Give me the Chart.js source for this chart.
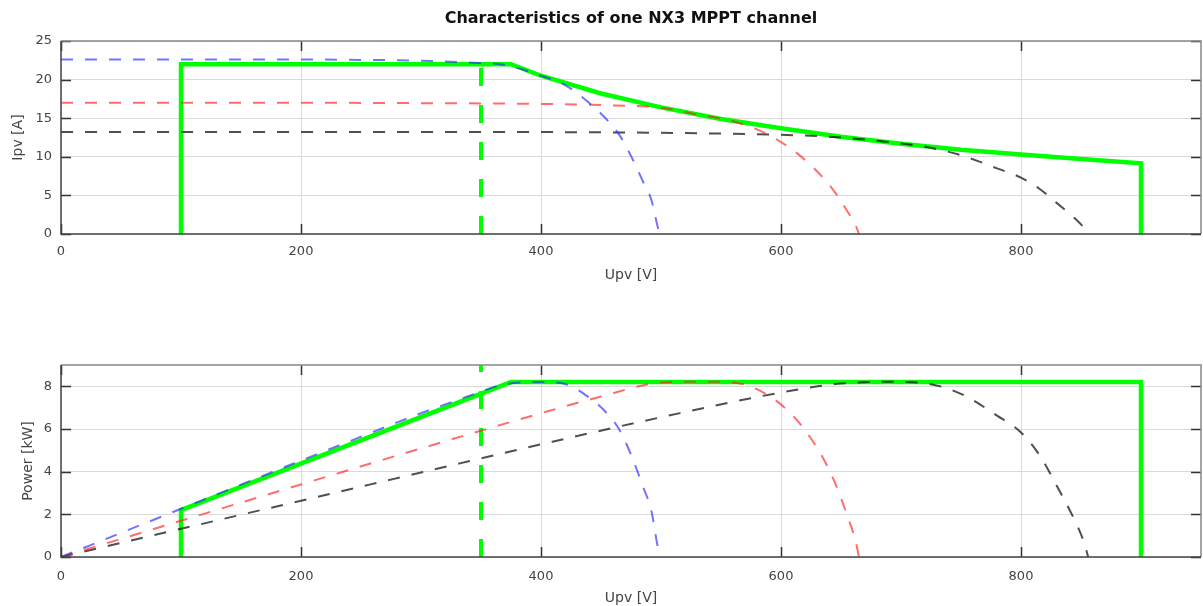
<!DOCTYPE html>
<html><head><meta charset="utf-8">
<script src="https://cdn.jsdelivr.net/npm/chart.js@4"></script>
<style>
html,body{margin:0;padding:0;background:#fff;overflow:hidden;width:1203px;height:606px;position:relative}
#c1{position:absolute;left:0;top:0}
#c2{position:absolute;left:0;top:300px}
</style></head><body>
<canvas id="c1" width="1203" height="300"></canvas>
<canvas id="c2" width="1203" height="320"></canvas>
<script>
// ---- data ----
const xTicks = [0, 200, 400, 600, 800];
const ipvTicks = [0, 5, 10, 15, 20, 25];
const powerTicks = [0, 2, 4, 6, 8];

const blueU = [0, 50, 100, 150, 200, 250, 300, 340, 370, 400, 420, 440, 455, 465, 475, 485, 492, 497, 499];
const blueI = [22.6, 22.6, 22.6, 22.6, 22.6, 22.55, 22.45, 22.2, 21.9, 20.5, 19.3, 17.0, 14.8, 12.9, 10.1, 6.8, 4.4, 1.1, 0];
const blueP = [0, 1.13, 2.26, 3.39, 4.52, 5.64, 6.74, 7.55, 8.10, 8.20, 8.11, 7.48, 6.73, 6.00, 4.80, 3.30, 2.16, 0.55, 0];

const redU = [0, 100, 200, 300, 400, 450, 500, 530, 560, 585, 605, 620, 635, 645, 655, 662, 665];
const redI = [17.0, 17.0, 17.0, 16.95, 16.85, 16.7, 16.35, 15.5, 14.6, 13.2, 11.4, 9.6, 7.3, 5.4, 3.0, 1.2, 0];
const redP = [0, 1.70, 3.40, 5.09, 6.74, 7.52, 8.18, 8.22, 8.18, 7.72, 6.90, 5.95, 4.64, 3.48, 1.97, 0.79, 0];

const blackU = [0, 100, 200, 300, 400, 500, 600, 650, 690, 720, 750, 780, 800, 815, 830, 845, 852, 856];
const blackI = [13.2, 13.2, 13.2, 13.2, 13.2, 13.1, 12.85, 12.5, 11.9, 11.3, 10.2, 8.5, 7.3, 5.9, 4.0, 2.0, 0.9, 0];
const blackP = [0, 1.32, 2.64, 3.96, 5.28, 6.55, 7.71, 8.13, 8.21, 8.14, 7.65, 6.63, 5.84, 4.81, 3.32, 1.69, 0.77, 0];

const mpptU_I = [100, 100, 375, 400, 450, 500, 550, 600, 650, 700, 750, 800, 850, 900, 900];
const mpptI = [0, 22, 22, 20.5, 18.2, 16.4, 14.9, 13.7, 12.6, 11.7, 10.9, 10.3, 9.7, 9.15, 0];
const mpptU_P = [100, 100, 375, 900, 900];
const mpptP = [0, 2.2, 8.2, 8.2, 0];

const markerU = [350, 350];
const markerI = [0, 22];
const markerP = [0, 9];

// ---- helpers ----
const pts = (xs, ys) => xs.map((x, i) => ({x: x, y: ys[i]}));
const FONT = "'DejaVu Sans', sans-serif";

const framePlugin = {
  id: 'frame',
  afterDatasetsDraw(chart) {
    const {ctx, chartArea: a, scales} = chart;
    ctx.save();
    ctx.lineWidth = 1.5;
    ctx.strokeStyle = '#333';
    ctx.beginPath();
    const tl = 10;
    scales.x.ticks.forEach(t => {
      const px = Math.round(scales.x.getPixelForValue(t.value)) + 0.5;
      ctx.moveTo(px, a.bottom); ctx.lineTo(px, a.bottom - tl);
      ctx.moveTo(px, a.top); ctx.lineTo(px, a.top + tl);
    });
    scales.y.ticks.forEach(t => {
      const py = Math.round(scales.y.getPixelForValue(t.value)) + 0.5;
      ctx.moveTo(a.left, py); ctx.lineTo(a.left + tl, py);
      ctx.moveTo(a.right, py); ctx.lineTo(a.right - tl, py);
    });
    ctx.stroke();
    ctx.strokeStyle = '#888';
    ctx.beginPath();
    ctx.moveTo(a.left, a.top); ctx.lineTo(a.right, a.top); ctx.lineTo(a.right, a.bottom);
    ctx.stroke();
    ctx.strokeStyle = '#444';
    ctx.beginPath();
    ctx.moveTo(a.left, a.top); ctx.lineTo(a.left, a.bottom); ctx.lineTo(a.right, a.bottom);
    ctx.stroke();
    ctx.restore();
  }
};

function curveSet(data, color, order) {
  return {data: data, borderColor: color, borderWidth: 2, borderDash: [12, 12],
          pointRadius: 0, fill: false, cubicInterpolationMode: 'monotone', order: order};
}

function makeChart(id, cfg) {
  return new Chart(document.getElementById(id), {
    type: 'line',
    data: {datasets: cfg.datasets},
    options: {
      responsive: false, animation: false,
      layout: {padding: {left: 0, right: 2, top: cfg.padTop, bottom: 0}},
      plugins: {
        legend: {display: false}, tooltip: {enabled: false},
        title: cfg.title ? {display: true, text: cfg.title, color: '#111', fullSize: false,
          font: {family: "'DejaVu Sans', sans-serif", size: 16, weight: 'bold', lineHeight: 1.2},
          padding: {top: 9, bottom: 12.8}} : {display: false}
      },
      scales: {
        x: {
          type: 'linear', min: 0, max: 950,
          afterBuildTicks(s) { s.ticks = xTicks.map(v => ({value: v})); },
          afterFit(s) { s.height = cfg.xh; },
          grid: {color: '#dadada', drawTicks: false},
          border: {display: false},
          ticks: {padding: cfg.xtp, color: '#444', maxRotation: 0, font: {family: FONT, size: 13}},
          title: {display: true, text: 'Upv [V]', color: '#444', font: {family: FONT, size: 14, lineHeight: 1.2},
                  padding: {top: 0, bottom: cfg.xtitle}}
        },
        y: {
          type: 'linear', min: 0, max: cfg.ymax,
          afterBuildTicks(s) { s.ticks = cfg.yTicks.map(v => ({value: v})); },
          afterFit(s) { s.width = 61; },
          grid: {color: '#dadada', drawTicks: false},
          border: {display: false},
          ticks: {padding: 9, color: '#444', font: {family: FONT, size: 13}},
          title: {display: true, text: cfg.ytitle, color: '#444', font: {family: FONT, size: 14, lineHeight: 1.2},
                  padding: {top: cfg.ytp, bottom: 0}}
        }
      }
    },
    plugins: [framePlugin]
  });
}

const BLUE = 'rgba(40,40,255,0.65)';
const RED = 'rgba(255,30,30,0.65)';
const BLACK = 'rgba(20,20,20,0.75)';
const GREEN = '#00ff00';

makeChart('c1', {
  title: 'Characteristics of one NX3 MPPT channel',
  padTop: 0, xh: 66, xtp: 10, xtitle: 16.6, ymax: 25, yTicks: ipvTicks, ytitle: 'Ipv [A]', ytp: 9.6,
  datasets: [
    curveSet(pts(blueU, blueI), BLUE, 1),
    curveSet(pts(redU, redI), RED, 2),
    curveSet(pts(blackU, blackI), BLACK, 3),
    {data: pts(markerU, markerI), borderColor: GREEN, borderWidth: 4, borderDash: [18, 19], pointRadius: 0, order: 4},
    {data: pts(mpptU_I, mpptI), borderColor: GREEN, borderWidth: 4.5, pointRadius: 0, tension: 0, order: 5}
  ]
});

makeChart('c2', {
  title: null,
  padTop: 65, xh: 63, xtp: 12, xtitle: 13.6, ymax: 9, yTicks: powerTicks, ytitle: 'Power [kW]', ytp: 19.6,
  datasets: [
    curveSet(pts(blueU, blueP), BLUE, 1),
    curveSet(pts(redU, redP), RED, 2),
    curveSet(pts(blackU, blackP), BLACK, 3),
    {data: pts(markerU, markerP), borderColor: GREEN, borderWidth: 4, borderDash: [18, 19], pointRadius: 0, order: 4},
    {data: pts(mpptU_P, mpptP), borderColor: GREEN, borderWidth: 4.5, pointRadius: 0, tension: 0, order: 5}
  ]
});
</script>
</body></html>
